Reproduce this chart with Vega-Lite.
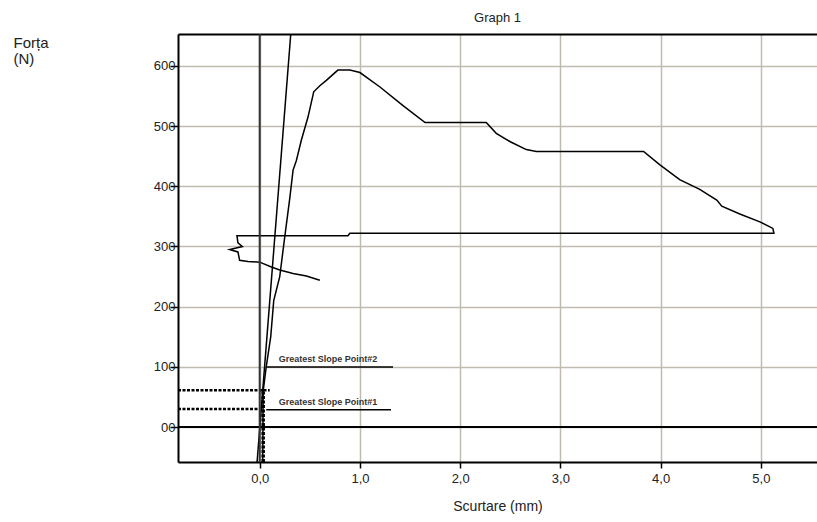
{
  "$schema": "https://vega.github.io/schema/vega-lite/v6.json",
  "width": 639,
  "height": 428,
  "autosize": "none",
  "padding": {"left": 178, "top": 34, "right": 0, "bottom": 60},
  "background": "white",
  "config": {
    "view": {"stroke": null},
    "font": "Liberation Sans",
    "axis": {"labelFont": "Liberation Sans", "titleFont": "Liberation Sans", "labelColor": "#222", "titleColor": "#222", "titleFontWeight": "normal"}
  },
  "title": {"text": "Graph 1", "anchor": "middle", "fontSize": 13, "fontWeight": "normal", "color": "#222", "offset": 8, "font": "Liberation Sans"},
  "datasets": {
    "curve": [
      {"i": 1, "x": 0.03, "y": -58}, {"i": 2, "x": 0.035, "y": 60}, {"i": 3, "x": 0.065, "y": 100},
      {"i": 4, "x": 0.11, "y": 150}, {"i": 5, "x": 0.14, "y": 210}, {"i": 6, "x": 0.2, "y": 250},
      {"i": 7, "x": 0.25, "y": 316}, {"i": 8, "x": 0.3, "y": 380}, {"i": 9, "x": 0.333, "y": 427},
      {"i": 10, "x": 0.366, "y": 443}, {"i": 11, "x": 0.416, "y": 477}, {"i": 12, "x": 0.482, "y": 515},
      {"i": 13, "x": 0.539, "y": 557}, {"i": 14, "x": 0.6, "y": 567}, {"i": 15, "x": 0.665, "y": 576},
      {"i": 16, "x": 0.78, "y": 593}, {"i": 17, "x": 0.9, "y": 593}, {"i": 18, "x": 1.0, "y": 589},
      {"i": 19, "x": 1.2, "y": 565}, {"i": 20, "x": 1.43, "y": 534}, {"i": 21, "x": 1.65, "y": 506},
      {"i": 22, "x": 2.26, "y": 506}, {"i": 23, "x": 2.36, "y": 488}, {"i": 24, "x": 2.5, "y": 474},
      {"i": 25, "x": 2.66, "y": 461}, {"i": 26, "x": 2.76, "y": 458}, {"i": 27, "x": 3.83, "y": 458},
      {"i": 28, "x": 3.99, "y": 436}, {"i": 29, "x": 4.19, "y": 411}, {"i": 30, "x": 4.39, "y": 395},
      {"i": 31, "x": 4.56, "y": 377}, {"i": 32, "x": 4.61, "y": 367}, {"i": 33, "x": 4.79, "y": 354},
      {"i": 34, "x": 4.99, "y": 341}, {"i": 35, "x": 5.12, "y": 330}, {"i": 36, "x": 5.13, "y": 322},
      {"i": 37, "x": 0.9, "y": 322}, {"i": 38, "x": 0.88, "y": 318}, {"i": 39, "x": -0.227, "y": 318},
      {"i": 40, "x": -0.217, "y": 306}, {"i": 41, "x": -0.173, "y": 300}, {"i": 42, "x": -0.3, "y": 295},
      {"i": 43, "x": -0.217, "y": 291}, {"i": 44, "x": -0.2, "y": 277}, {"i": 45, "x": -0.117, "y": 275},
      {"i": 46, "x": 0.0, "y": 274}, {"i": 47, "x": 0.117, "y": 266}, {"i": 48, "x": 0.2, "y": 261},
      {"i": 49, "x": 0.333, "y": 255}, {"i": 50, "x": 0.466, "y": 251}, {"i": 51, "x": 0.6, "y": 244}
    ],
    "slope": [
      {"i": 1, "x": -0.026, "y": -58}, {"i": 2, "x": 0.31, "y": 653}
    ],
    "hsegs": [
      {"x": 0.065, "x2": 1.33, "y": 100, "w": "thin"},
      {"x": 0.065, "x2": 1.31, "y": 29, "w": "thin"},
      {"x": -0.815, "x2": 5.56, "y": 0, "w": "thick"}
    ],
    "dotted": [
      {"x": -0.815, "x2": 0.1, "y": 61},
      {"x": -0.815, "x2": 0.0, "y": 30}
    ],
    "vthick": [
      {"x": 0.035, "y": -58, "y2": 60}
    ],
    "labels": [
      {"x": 0.19, "y": 100, "label": "Greatest Slope Point#2"},
      {"x": 0.19, "y": 29, "label": "Greatest Slope Point#1"}
    ],
    "zero": [
      {"x": 0.0}
    ]
  },
  "layer": [
    {
      "data": {"name": "curve"},
      "mark": {"type": "line", "color": "black", "strokeWidth": 1.5, "clip": true},
      "encoding": {
        "x": {"field": "x", "type": "quantitative",
          "scale": {"domain": [-0.815, 5.56], "nice": false, "zero": false},
          "axis": {"orient": "bottom", "values": [0, 1, 2, 3, 4, 5], "format": ".1f", "labelExpr": "replace(datum.label, '.', ',')",
            "grid": true, "gridColor": "#bfbbae", "gridWidth": 1.5,
            "domainColor": "black", "domainWidth": 2, "tickColor": "black", "tickWidth": 1.5, "tickSize": 6,
            "labelFontSize": 13, "labelPadding": 4,
            "title": "Scurtare (mm)", "titleFontSize": 14, "titlePadding": 14}},
        "y": {"field": "y", "type": "quantitative",
          "scale": {"domain": [-58, 653], "nice": false, "zero": false},
          "axis": {"values": [0, 100, 200, 300, 400, 500, 600], "labelExpr": "datum.value == 0 ? '00' : datum.label",
            "grid": true, "gridColor": "#bfbbae", "gridWidth": 1.5,
            "domainColor": "black", "domainWidth": 2, "tickColor": "black", "tickWidth": 1.5, "tickSize": 8,
            "labelFontSize": 13, "labelPadding": -5,
            "title": ["Forța", "\u00a0(N)"], "titleFontSize": 15, "titleAngle": 0, "titleAlign": "left", "titleBaseline": "top",
            "titleX": -165, "titleY": 1, "titleLineHeight": 16}},
        "order": {"field": "i", "type": "quantitative"}
      }
    },
    {
      "data": {"name": "slope"},
      "mark": {"type": "line", "color": "black", "strokeWidth": 1.5, "clip": true},
      "encoding": {
        "x": {"field": "x", "type": "quantitative", "axis": null},
        "y": {"field": "y", "type": "quantitative"},
        "order": {"field": "i", "type": "quantitative"}
      }
    },
    {
      "data": {"name": "hsegs"},
      "mark": {"type": "rule", "color": "black", "clip": true},
      "encoding": {
        "x": {"field": "x", "type": "quantitative", "axis": null},
        "x2": {"field": "x2"},
        "y": {"field": "y", "type": "quantitative"},
        "strokeWidth": {"field": "w", "type": "nominal", "scale": {"domain": ["thin", "thick"], "range": [1.5, 2]}, "legend": null}
      }
    },
    {
      "data": {"name": "dotted"},
      "mark": {"type": "rule", "color": "black", "strokeWidth": 2.5, "strokeDash": [3, 1.5], "clip": true},
      "encoding": {
        "x": {"field": "x", "type": "quantitative", "axis": null},
        "x2": {"field": "x2"},
        "y": {"field": "y", "type": "quantitative"}
      }
    },
    {
      "data": {"name": "vthick"},
      "mark": {"type": "rule", "color": "black", "strokeWidth": 3.5, "strokeDash": [3, 1.5], "clip": true},
      "encoding": {
        "x": {"field": "x", "type": "quantitative", "axis": null},
        "y": {"field": "y", "type": "quantitative"},
        "y2": {"field": "y2"}
      }
    },
    {
      "data": {"name": "labels"},
      "mark": {"type": "text", "align": "left", "baseline": "bottom", "dy": -3, "fontSize": 9, "fontWeight": "bold", "color": "#333", "font": "Liberation Sans"},
      "encoding": {
        "x": {"field": "x", "type": "quantitative", "axis": null},
        "y": {"field": "y", "type": "quantitative"},
        "text": {"field": "label"}
      }
    },
    {
      "data": {"name": "zero"},
      "mark": {"type": "rule", "color": "#333", "strokeWidth": 2},
      "encoding": {
        "x": {"field": "x", "type": "quantitative",
          "axis": {"orient": "top", "labels": false, "ticks": false, "grid": false, "domainColor": "black", "domainWidth": 2, "title": null}}
      }
    }
  ],
  "resolve": {"axis": {"x": "independent"}}
}
